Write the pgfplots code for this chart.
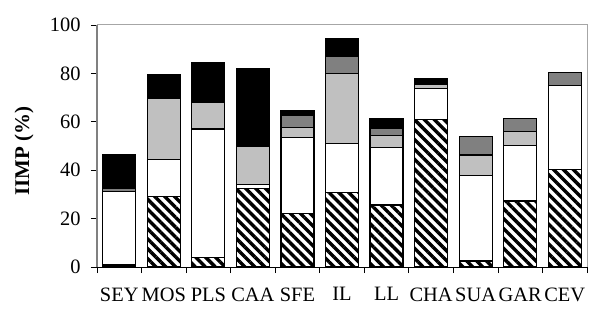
\documentclass[border=0pt]{standalone}
\usepackage{fontspec}
\setmainfont{Liberation Serif}
\usepackage{pgfplots}
\pgfplotsset{compat=1.18}
\usepackage{pgfplotstable}
\usetikzlibrary{patterns.meta}
\definecolor{lg}{HTML}{C0C0C0}
\definecolor{dg}{HTML}{808080}
\pgfplotstableread{
x hatch white lgray dgray blk
0 0.8 30.3 0 1.4 14.0
1 29 15.5 25.2 0 9.9
2 4 53 11 0 16.6
3 32.5 1.5 16 0 32
4 22.2 31.2 4.2 4.9 2.0
5 30.7 20.4 28.9 7.2 7.0
6 25.6 23.7 5 3 4
7 61 12.8 1.7 0 2.3
8 2.5 35.2 8.6 7.5 0
9 27.3 23 5.6 5.3 0
10 40.3 34.6 0 5.4 0
}\data
\begin{document}
\begin{tikzpicture}
\begin{axis}[
  scale only axis, width=490bp, height=242bp,
  xmin=-0.5, xmax=10.5, ymin=0, ymax=100,
  ybar stacked, bar width=33bp,
  axis line style={draw=none},
  xtick={0,...,10},
  xticklabels={SEY,MOS,PLS,CAA,SFE,IL,LL,CHA,SUA,GAR,CEV},
  major x tick style={draw=none},
  minor xtick={-0.5,0.5,...,10.5},
  ytick={0,20,...,100},
  tick align=outside,
  major tick length=6bp, minor tick length=6bp,
  tick style={black, line width=0.8bp},
  xtick pos=bottom, ytick pos=left,
  /pgf/number format/assume math mode=true,
  tick label style={font=\fontsize{20.5}{24}\selectfont},
  xticklabel style={yshift=-11bp},
  yticklabel style={xshift=-7bp},
  ylabel={\textbf{IIMP (\%)}},
  ylabel style={font=\fontsize{21}{24}\selectfont, at={([xshift=-73bp]rel axis cs:0,0.48)}, anchor=center},
  every axis plot/.append style={draw=black, line width=1.2bp},
  clip=false,
]
\addplot[pattern={Lines[angle=-45,distance=7bp,line width=3.4bp]}, pattern color=black] table[x=x,y=hatch]{\data};
\addplot[fill=white] table[x=x,y=white]{\data};
\addplot[fill=lg] table[x=x,y=lgray]{\data};
\addplot[fill=dg] table[x=x,y=dgray]{\data};
\addplot[fill=black] table[x=x,y=blk]{\data};
\draw[color=gray!70, line width=1bp] (rel axis cs:0,1) -- (rel axis cs:1,1) -- (rel axis cs:1,0);
\draw[color=dg, line width=1.2bp] (rel axis cs:0,0) -- (rel axis cs:0,1);
\draw[color=black, line width=1bp] (rel axis cs:0,0) -- (rel axis cs:1,0);
\path ([xshift=-97bp,yshift=-42bp]rel axis cs:0,0) rectangle ([xshift=5bp,yshift=25bp]rel axis cs:1,1);
\end{axis}
\end{tikzpicture}
\end{document}
